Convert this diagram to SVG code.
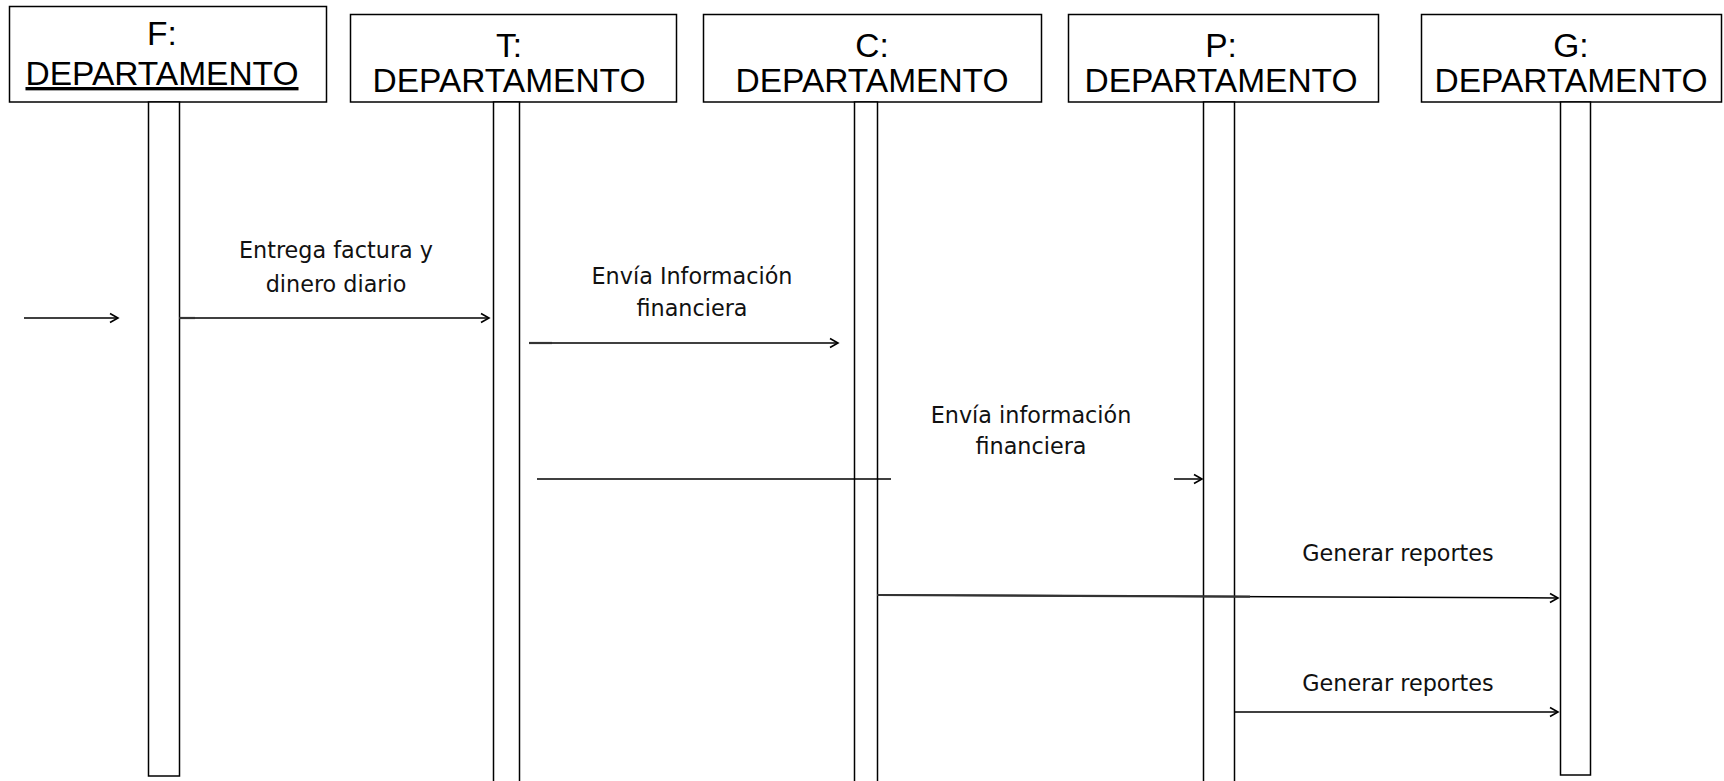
<svg xmlns="http://www.w3.org/2000/svg" width="1724" height="781" viewBox="0 0 1724 781">
<style>
.box{fill:#fff;stroke:#000;stroke-width:1.5}
.bar{fill:#fff;stroke:#000;stroke-width:1.5}
.hd{font-family:"Liberation Sans",Arial,sans-serif;font-size:33.5px;fill:#000;text-anchor:middle}
.msg{stroke:#000;stroke-width:1.5;fill:none}
.stub{stroke:#333;stroke-width:2.2;fill:none}
.lbl{font-family:"DejaVu Sans",Verdana,sans-serif;font-size:22.3px;fill:#111;text-anchor:middle}
</style>
<defs>
<marker id="open" markerWidth="12" markerHeight="12" refX="10" refY="6" orient="auto" markerUnits="userSpaceOnUse">
<path d="M2,1.5 L10,6 L2,10.5" fill="none" stroke="#000" stroke-width="1.6"/>
</marker>
</defs>
<rect width="1724" height="781" fill="#fff"/>
<g id="node-F">
<rect class="box" x="9.5" y="6.5" width="317" height="95.5"/>
<rect class="bar" x="148.5" y="102" width="31" height="674"/>
<text class="hd" x="162" y="45">F:</text>
<text class="hd" x="162" y="85" text-decoration="underline">DEPARTAMENTO</text>
</g>
<g id="node-T">
<rect class="box" x="350.5" y="14.5" width="326" height="87.5"/>
<rect class="bar" x="493.5" y="102" width="26" height="690"/>
<text class="hd" x="509" y="57">T:</text>
<text class="hd" x="509" y="92">DEPARTAMENTO</text>
</g>
<g id="node-C">
<rect class="box" x="703.5" y="14.5" width="338" height="87.5"/>
<rect class="bar" x="854.5" y="102" width="23" height="690"/>
<text class="hd" x="872" y="57">C:</text>
<text class="hd" x="872" y="92">DEPARTAMENTO</text>
</g>
<g id="node-P">
<rect class="box" x="1068.5" y="14.5" width="310" height="87.5"/>
<rect class="bar" x="1203.5" y="102" width="31" height="690"/>
<text class="hd" x="1221" y="57">P:</text>
<text class="hd" x="1221" y="92">DEPARTAMENTO</text>
</g>
<g id="node-G">
<rect class="box" x="1421.5" y="14.5" width="300" height="87.5"/>
<rect class="bar" x="1560.5" y="102" width="30" height="673"/>
<text class="hd" x="1571" y="57">G:</text>
<text class="hd" x="1571" y="92">DEPARTAMENTO</text>
</g>
<g id="connectors">
<line class="msg" x1="24" y1="318" x2="118" y2="318" marker-end="url(#open)"/>
<line class="msg" x1="179" y1="318" x2="489" y2="318" marker-end="url(#open)"/>
<line class="stub" x1="179" y1="318" x2="195" y2="318"/>
<line class="msg" x1="529" y1="343" x2="838" y2="343" marker-end="url(#open)"/>
<line class="stub" x1="529" y1="343" x2="552" y2="343"/>
<line class="msg" x1="537" y1="479" x2="891" y2="479"/>
<line class="msg" x1="1174" y1="479" x2="1202" y2="479" marker-end="url(#open)"/>
<line class="msg" x1="877" y1="595" x2="1558" y2="598" marker-end="url(#open)"/>
<line class="stub" x1="877" y1="595" x2="1250" y2="596.6"/>
<line class="msg" x1="1235" y1="712" x2="1558" y2="712" marker-end="url(#open)"/>
</g>
<g id="labels">
<text class="lbl" x="336" y="258">Entrega factura y</text>
<text class="lbl" x="336" y="292">dinero diario</text>
<text class="lbl" x="692" y="284">Envía Información</text>
<text class="lbl" x="692" y="316">financiera</text>
<text class="lbl" x="1031" y="423">Envía información</text>
<text class="lbl" x="1031" y="454">financiera</text>
<text class="lbl" x="1398" y="561">Generar reportes</text>
<text class="lbl" x="1398" y="691">Generar reportes</text>
</g>
</svg>
